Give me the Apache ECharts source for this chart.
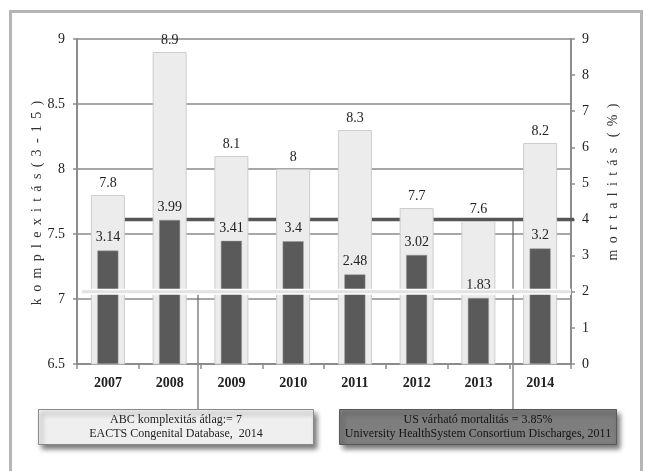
<!DOCTYPE html>
<html lang="hu">
    <head>
        <meta charset="UTF-8">
        <title>Komplexitás és mortalitás</title>
        <style>
            *{
                margin: 0;
                padding: 0;
            }
            body{
                background: #fff;
            }
            #chart{
                width: 646px;
                height: 471px;
            }
        </style>
        <script src="https://cdn.jsdelivr.net/npm/echarts@6/dist/echarts.min.js"></script>
    </head>
    <body>
        <div id="chart"></div>
        <script>
            // data
            var years = ['2007', '2008', '2009', '2010', '2011', '2012', '2013', '2014'];
            var complexity = [7.8, 8.9, 8.1, 8, 8.3, 7.7, 7.6, 8.2];
            var mortality = [3.14, 3.99, 3.41, 3.4, 2.48, 3.02, 1.83, 3.2];

            // reference lines, as drawn on the mortality (right) axis
            var mortalityRefLevel = 4;
            var complexityRefLevel = 2;
            // horizontal extent of the reference lines, in category units
            var mortalityRefSpan = [0.5, 8.07];
            var complexityRefSpan = [0.08, 8];

            var serif = '"Liberation Serif", "Times New Roman", serif';
            var axisGray = '#8c8c8c';

            // letter-spaced axis titles
            function spaced(s){
                return s.split('').join(' \u2009');
            }

            var chart = echarts.init(document.getElementById('chart'));
            var option = {
                animation: false,
                grid: {
                    left: 77,
                    right: 75,
                    top: 39,
                    bottom: 107,
                    containLabel: false
                },
                xAxis: [{
                    type: 'category',
                    data: years,
                    axisLine: {lineStyle: {color: axisGray, width: 2}},
                    axisTick: {show: true, length: 5, lineStyle: {color: axisGray, width: 1.5}},
                    axisLabel: {margin: 12, color: '#222', fontFamily: serif, fontSize: 14, fontWeight: 'bold'}
                },{
                    type: 'category',
                    data: years,
                    show: false
                },{
                    type: 'value',
                    min: 0,
                    max: 8,
                    show: false
                }],
                yAxis: [{
                    type: 'value',
                    min: 6.5,
                    max: 9,
                    interval: 0.5,
                    axisLine: {show: true, lineStyle: {color: axisGray, width: 2}},
                    axisTick: {show: true, length: 4, lineStyle: {color: axisGray, width: 1.5}},
                    axisLabel: {margin: 12, color: '#222', fontFamily: serif, fontSize: 14},
                    splitLine: {show: true, lineStyle: {color: '#8a8a8a', width: 1.5}}
                },{
                    type: 'value',
                    position: 'right',
                    min: 0,
                    max: 9,
                    interval: 1,
                    axisLine: {show: true, lineStyle: {color: axisGray, width: 2}},
                    axisTick: {show: true, length: 4, lineStyle: {color: axisGray, width: 1.5}},
                    axisLabel: {margin: 11, color: '#222', fontFamily: serif, fontSize: 14},
                    splitLine: {show: false}
                }],
                series: [{
                    name: 'US mortalitás',
                    type: 'line',
                    xAxisIndex: 2,
                    yAxisIndex: 1,
                    data: [[mortalityRefSpan[0], mortalityRefLevel], [mortalityRefSpan[1], mortalityRefLevel]],
                    symbol: 'none',
                    silent: true,
                    lineStyle: {color: '#565656', width: 3.5},
                    z: 2
                },{
                    name: 'komplexitás',
                    type: 'bar',
                    xAxisIndex: 0,
                    yAxisIndex: 0,
                    data: complexity,
                    barWidth: 34,
                    itemStyle: {color: '#ececec', borderColor: '#cdcdcd', borderWidth: 1},
                    label: {show: true, position: 'top', distance: 5, color: '#222', fontFamily: serif, fontSize: 14},
                    z: 3
                },{
                    name: 'mortalitás',
                    type: 'bar',
                    xAxisIndex: 1,
                    yAxisIndex: 1,
                    data: mortality,
                    barWidth: 21,
                    itemStyle: {color: '#5a5a5a', borderColor: '#9a9a9a', borderWidth: 0.5},
                    label: {show: true, position: 'top', distance: 6, color: '#222', fontFamily: serif, fontSize: 14},
                    z: 4
                },{
                    name: 'ABC átlag keret',
                    type: 'line',
                    xAxisIndex: 2,
                    yAxisIndex: 1,
                    data: [[complexityRefSpan[0], complexityRefLevel], [complexityRefSpan[1], complexityRefLevel]],
                    symbol: 'none',
                    silent: true,
                    lineStyle: {color: '#ffffff', width: 6},
                    z: 5
                },{
                    name: 'ABC átlag',
                    type: 'line',
                    xAxisIndex: 2,
                    yAxisIndex: 1,
                    data: [[complexityRefSpan[0], complexityRefLevel], [complexityRefSpan[1], complexityRefLevel]],
                    symbol: 'none',
                    silent: true,
                    lineStyle: {color: '#e2e2e2', width: 3},
                    z: 6
                }]
            };
            chart.setOption(option);

            // annotation boxes hang from the reference lines
            var yMort = chart.convertToPixel({yAxisIndex: 1}, mortalityRefLevel);
            var yComp = chart.convertToPixel({yAxisIndex: 1}, complexityRefLevel);
            var boxTop = 409.5;
            var shadow = {shadowBlur: 5, shadowOffsetX: 3, shadowOffsetY: 4, shadowColor: 'rgba(0,0,0,0.55)'};

            chart.setOption({
                graphic: [{
                    type: 'rect',
                    silent: true,
                    shape: {x: 10.5, y: 11.5, width: 631, height: 480},
                    style: {fill: 'none', stroke: '#b5b5b5', lineWidth: 3}
                },{
                    type: 'text',
                    x: 37,
                    y: 203,
                    rotation: Math.PI / 2,
                    style: {
                        text: spaced('komplexitás(3-15)'),
                        font: '14px ' + serif,
                        fill: '#333',
                        align: 'center', textAlign: 'center',
                        verticalAlign: 'middle', textVerticalAlign: 'middle'
                    }
                },{
                    type: 'text',
                    x: 613,
                    y: 182,
                    rotation: Math.PI / 2,
                    style: {
                        text: spaced('mortalitás') + '   ' + spaced('(%)'),
                        font: '14px ' + serif,
                        fill: '#333',
                        align: 'center', textAlign: 'center',
                        verticalAlign: 'middle', textVerticalAlign: 'middle'
                    }
                },{
                    type: 'line',
                    silent: true,
                    shape: {x1: 198, y1: yComp, x2: 198, y2: boxTop},
                    style: {stroke: '#666', lineWidth: 1.2}
                },{
                    type: 'line',
                    silent: true,
                    shape: {x1: 513, y1: yMort, x2: 513, y2: boxTop},
                    style: {stroke: '#666', lineWidth: 1.2}
                },{
                    type: 'rect',
                    shape: {x: 38.5, y: boxTop, width: 275, height: 35},
                    style: Object.assign({fill: '#efefef', stroke: '#8a8a8a', lineWidth: 1}, shadow),
                    z: 10
                },{
                    type: 'text',
                    x: 176,
                    y: 427,
                    z: 11,
                    style: {
                        text: 'ABC komplexitás átlag:= 7\nEACTS Congenital Database,  2014',
                        font: '12px ' + serif,
                        lineHeight: 13.5,
                        fill: '#222',
                        align: 'center', textAlign: 'center',
                        verticalAlign: 'middle', textVerticalAlign: 'middle'
                    }
                },{
                    type: 'rect',
                    shape: {x: 339.5, y: boxTop, width: 277, height: 35},
                    style: Object.assign({fill: '#7e7e7e', stroke: '#585858', lineWidth: 1}, shadow),
                    z: 10
                },{
                    type: 'text',
                    x: 478,
                    y: 427,
                    z: 11,
                    style: {
                        text: 'US várható mortalitás = 3.85%\nUniversity HealthSystem Consortium Discharges, 2011',
                        font: '12px ' + serif,
                        lineHeight: 13.5,
                        fill: '#151515',
                        align: 'center', textAlign: 'center',
                        verticalAlign: 'middle', textVerticalAlign: 'middle'
                    }
                }]
            });

            window.onresize = function () {
                chart.resize();
            };
        </script>
    </body>
</html>
